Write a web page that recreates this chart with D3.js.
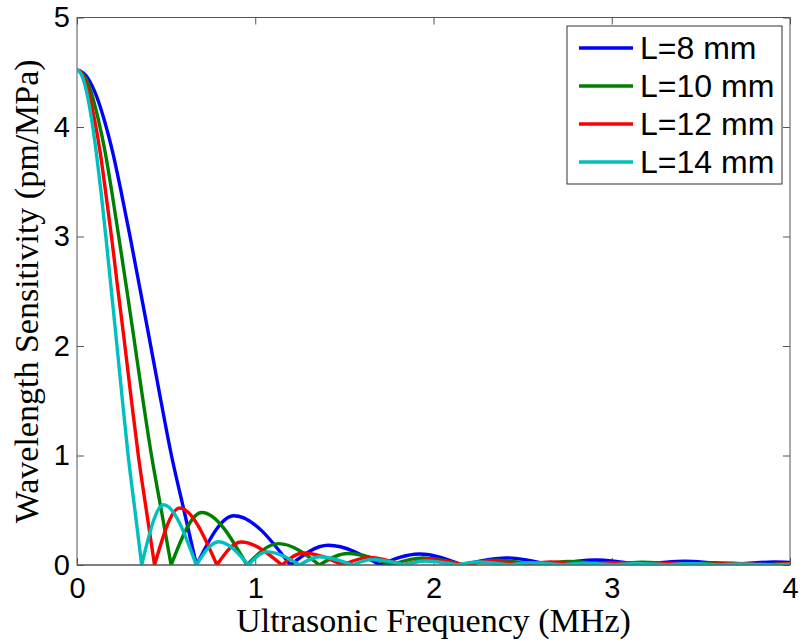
<!DOCTYPE html>
<html>
<head>
<meta charset="utf-8">
<script src="https://cdn.jsdelivr.net/npm/d3@7"></script>
<style>
  body { margin: 0; background: #fff; }
  svg { display: block; }
</style>
</head>
<body>
<svg id="chart" width="801" height="643"></svg>
<script>
// Sensor response vs. frequency for four grating lengths
const seriesLabels = ["L=8 mm", "L=10 mm", "L=12 mm", "L=14 mm"];

// [frequency (MHz), wavelength sensitivity (pm/MPa)]
const sensL8 = [
  [0, 4.52], [0.02, 4.51], [0.05, 4.47], [0.10, 4.32], [0.15, 4.08], [0.20, 3.77], [0.25, 3.39],
  [0.30, 2.98], [0.35, 2.55], [0.40, 2.12], [0.465, 1.55], [0.53, 1.0], [0.60, 0.5], [0.67, 0],
  [0.88, 0.45], [1.197, 0], [1.41, 0.18], [1.70, 0], [1.92, 0.10], [2.16, 0],
  [2.41, 0.065], [2.66, 0], [2.91, 0.045], [3.16, 0], [3.41, 0.034], [3.66, 0],
  [3.91, 0.027], [4.0, 0.024]
];
const sensL10 = [
  [0, 4.52], [0.016, 4.51], [0.039, 4.47], [0.079, 4.32], [0.118, 4.08], [0.158, 3.77], [0.197, 3.39],
  [0.236, 2.98], [0.276, 2.55], [0.315, 2.12], [0.366, 1.55], [0.418, 1.0], [0.473, 0.5], [0.528, 0],
  [0.70, 0.48], [0.953, 0], [1.13, 0.195], [1.36, 0], [1.52, 0.105], [1.76, 0],
  [1.94, 0.065], [2.17, 0], [2.35, 0.044], [2.58, 0], [2.76, 0.032], [2.99, 0],
  [3.17, 0.025], [3.40, 0], [3.58, 0.02], [3.81, 0], [4.0, 0.015]
];
const sensL12 = [
  [0, 4.52], [0.013, 4.51], [0.032, 4.47], [0.065, 4.32], [0.097, 4.08], [0.13, 3.77], [0.162, 3.39],
  [0.195, 2.98], [0.227, 2.55], [0.26, 2.12], [0.302, 1.55], [0.344, 1.0], [0.389, 0.5], [0.435, 0],
  [0.575, 0.52], [0.785, 0], [0.92, 0.21], [1.15, 0], [1.27, 0.11], [1.49, 0],
  [1.64, 0.07], [1.83, 0], [1.98, 0.048], [2.17, 0], [2.32, 0.035], [2.51, 0],
  [2.66, 0.027], [2.85, 0], [3.00, 0.021], [3.19, 0], [3.34, 0.017], [3.53, 0],
  [3.68, 0.014], [3.87, 0], [4.0, 0.011]
];
const sensL14 = [
  [0, 4.52], [0.011, 4.51], [0.027, 4.47], [0.054, 4.32], [0.081, 4.08], [0.108, 3.77], [0.136, 3.39],
  [0.163, 2.98], [0.19, 2.55], [0.217, 2.12], [0.252, 1.55], [0.287, 1.0], [0.325, 0.5], [0.363, 0],
  [0.485, 0.55], [0.669, 0], [0.794, 0.213], [0.962, 0], [1.066, 0.12], [1.25, 0],
  [1.36, 0.075], [1.545, 0], [1.655, 0.05], [1.84, 0], [1.95, 0.036], [2.135, 0],
  [2.245, 0.027], [2.43, 0], [2.54, 0.021], [2.725, 0], [2.835, 0.017], [3.02, 0],
  [3.13, 0.014], [3.315, 0], [3.425, 0.012], [3.61, 0], [3.72, 0.01], [3.905, 0],
  [4.0, 0.006]
];

const xTicks = [0, 1, 2, 3, 4];
const yTicks = [0, 1, 2, 3, 4, 5];
const xTitle = "Ultrasonic Frequency (MHz)";
const yTitle = "Wavelength Sensitivity (pm/MPa)";

const seriesData = [sensL8, sensL10, sensL12, sensL14];
const seriesColors = ["#0000ff", "#008000", "#ff0000", "#00bfbf"];

// Layout
const plot = { left: 77, right: 790, top: 17.5, bottom: 565 };
const svg = d3.select("#chart");

const x = d3.scaleLinear().domain([0, 4]).range([plot.left, plot.right]);
const y = d3.scaleLinear().domain([0, 5]).range([plot.bottom, plot.top]);

const axisColor = "#555";
const tickFont = "'Liberation Sans', Arial, Helvetica, sans-serif";
const titleFont = "'Liberation Serif', 'Times New Roman', Times, serif";

// Plot frame
svg.append("rect")
  .attr("x", plot.left).attr("y", plot.top)
  .attr("width", plot.right - plot.left).attr("height", plot.bottom - plot.top)
  .attr("fill", "#fff").attr("stroke", axisColor).attr("stroke-width", 1);

function styleAxis(g, labels) {
  g.select(".domain").remove();
  g.selectAll(".tick line").attr("stroke", axisColor).attr("stroke-width", 1);
  g.selectAll(".tick text")
    .attr("fill", "#000")
    .style("font-family", tickFont)
    .style("font-size", "29px");
  if (!labels) g.selectAll(".tick text").remove();
}

// Bottom / left axes with inward ticks, mirrored on top / right
svg.append("g").attr("transform", `translate(0,${plot.bottom})`)
  .call(d3.axisBottom(x).tickValues(xTicks).tickFormat(d3.format("d"))
    .tickSizeInner(-7).tickSizeOuter(0).tickPadding(12))
  .call(g => styleAxis(g, true));
svg.append("g").attr("transform", `translate(0,${plot.top})`)
  .call(d3.axisTop(x).tickValues(xTicks).tickSizeInner(-7).tickSizeOuter(0))
  .call(g => styleAxis(g, false));
svg.append("g").attr("transform", `translate(${plot.left},0)`)
  .call(d3.axisLeft(y).tickValues(yTicks).tickFormat(d3.format("d"))
    .tickSizeInner(-7).tickSizeOuter(0).tickPadding(7))
  .call(g => styleAxis(g, true));
svg.append("g").attr("transform", `translate(${plot.right},0)`)
  .call(d3.axisRight(y).tickValues(yTicks).tickSizeInner(-7).tickSizeOuter(0))
  .call(g => styleAxis(g, false));

// Split a response curve into lobes at its zeros so each lobe keeps a sharp notch
function lobes(pts) {
  const segs = [];
  let cur = [pts[0]];
  for (let i = 1; i < pts.length; i++) {
    cur.push(pts[i]);
    if (pts[i][1] === 0 && i < pts.length - 1) {
      segs.push(cur);
      cur = [pts[i]];
    }
  }
  segs.push(cur);
  return segs;
}

const line = d3.line()
  .x(d => x(d[0]))
  .y(d => y(d[1]))
  .curve(d3.curveMonotoneX);

svg.append("defs").append("clipPath").attr("id", "plotClip")
  .append("rect")
  .attr("x", plot.left).attr("y", plot.top - 2)
  .attr("width", plot.right - plot.left).attr("height", plot.bottom - plot.top + 2);

const curves = svg.append("g").attr("clip-path", "url(#plotClip)");
seriesData.forEach((pts, i) => {
  curves.append("path")
    .attr("d", lobes(pts).map(seg => line(seg)).join(""))
    .attr("fill", "none")
    .attr("stroke", seriesColors[i])
    .attr("stroke-width", 3.4)
    .attr("stroke-linejoin", "round")
    .attr("stroke-linecap", "round");
});

// Redraw the bottom border over the curves
svg.append("line")
  .attr("x1", plot.left).attr("x2", plot.right)
  .attr("y1", plot.bottom).attr("y2", plot.bottom)
  .attr("stroke", axisColor).attr("stroke-width", 1);

// Axis titles
svg.append("text")
  .attr("x", (plot.left + plot.right) / 2)
  .attr("y", 632)
  .attr("text-anchor", "middle")
  .style("font-family", titleFont)
  .style("font-size", "34px")
  .attr("fill", "#000")
  .text(xTitle);

svg.append("text")
  .attr("transform", `translate(38,${(plot.top + plot.bottom) / 2}) rotate(-90)`)
  .attr("text-anchor", "middle")
  .style("font-family", titleFont)
  .style("font-size", "34px")
  .attr("fill", "#000")
  .text(yTitle);

// Legend
const legend = svg.append("g");
legend.append("rect")
  .attr("x", 567).attr("y", 26)
  .attr("width", 215).attr("height", 158)
  .attr("fill", "#fff").attr("stroke", "#333").attr("stroke-width", 1);

seriesLabels.forEach((lab, i) => {
  const ly = 48 + i * 38;
  legend.append("line")
    .attr("x1", 579).attr("x2", 633)
    .attr("y1", ly).attr("y2", ly)
    .attr("stroke", seriesColors[i]).attr("stroke-width", 3.4);
  legend.append("text")
    .attr("x", 640).attr("y", ly + 11)
    .style("font-family", tickFont)
    .style("font-size", "32px")
    .attr("fill", "#000")
    .text(lab);
});
</script>
</body>
</html>
